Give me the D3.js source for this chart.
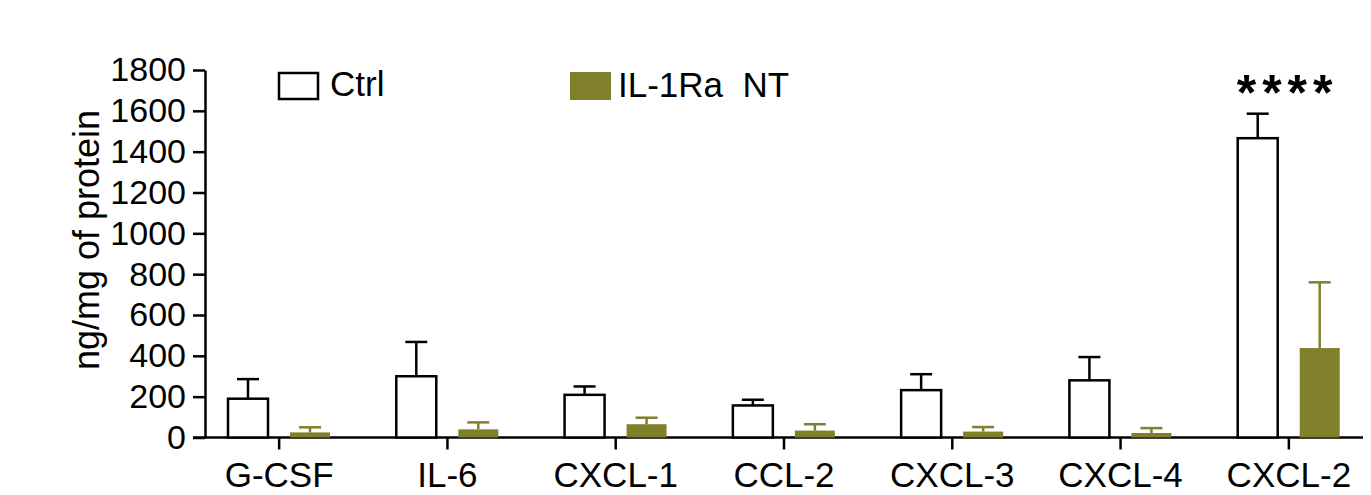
<!DOCTYPE html>
<html>
<head>
<meta charset="utf-8">
<script src="https://cdn.jsdelivr.net/npm/d3@7"></script>
<style>
  body { margin: 0; background: #fff; }
  svg text { font-family: "Liberation Sans", Arial, sans-serif; fill: #000; }
</style>
</head>
<body>
<div id="chart"></div>
<script>
// cytokine levels, Ctrl vs IL-1Ra NT
var categories = ["G-CSF", "IL-6", "CXCL-1", "CCL-2", "CXCL-3", "CXCL-4", "CXCL-2"]
var ctrlMean = [190, 300, 209, 157, 232, 280, 1466]
var ctrlErr  = [96, 168, 41, 28, 78, 114, 120]
var ntMean   = [25, 40, 65, 34, 29, 22, 438]
var ntErr    = [25, 34, 32, 31, 22, 24, 322]
var yTicks   = [0, 200, 400, 600, 800, 1000, 1200, 1400, 1600, 1800]

var width = 1371
var height = 495
var olive = "#81802a"

var svg = d3.select("#chart")
  .append("svg")
  .attr("width", width)
  .attr("height", height)

// scales
var x = d3.scaleBand()
  .domain(categories)
  .range([195, 1373])

var xInner = d3.scaleBand()
  .domain(["Ctrl", "NT"])
  .range([33, 135])
  .paddingInner(0.355)

var y = d3.scaleLinear()
  .domain([0, 1800])
  .range([437.5, 70])

// y axis
var yAxis = svg.append("g")
  .attr("transform", "translate(205,0)")
  .call(d3.axisLeft(y).tickValues(yTicks).tickFormat(d3.format("d"))
    .tickSize(12).tickSizeOuter(0).tickPadding(7))
yAxis.select(".domain").attr("stroke-width", 2.5)
yAxis.selectAll(".tick line").attr("stroke-width", 2.5)
yAxis.selectAll(".tick text")
  .attr("font-size", 34)
  .attr("font-family", "Liberation Sans, Arial, sans-serif")

// x axis
var xAxis = svg.append("g")
  .attr("transform", "translate(0," + y(0) + ")")
  .call(d3.axisBottom(x).tickSize(12).tickSizeOuter(0).tickPadding(13))
xAxis.select(".domain").remove()
xAxis.append("line")
  .attr("x1", 193).attr("x2", 1363)
  .attr("stroke", "#000").attr("stroke-width", 2.5)
xAxis.selectAll(".tick line").attr("stroke-width", 2.5)
xAxis.selectAll(".tick text")
  .attr("font-size", 35)
  .attr("font-family", "Liberation Sans, Arial, sans-serif")

// y axis title
svg.append("text")
  .attr("transform", "translate(99,240) rotate(-90)")
  .attr("text-anchor", "middle")
  .attr("font-size", 36)
  .text("ng/mg of protein")

// rows for drawing
var rows = categories.map(function(c, i) {
  return { cat: c, ctrl: ctrlMean[i], ctrlE: ctrlErr[i], nt: ntMean[i], ntE: ntErr[i] }
})

var groups = svg.selectAll(".grp")
  .data(rows)
  .enter().append("g")
  .attr("class", "grp")
  .attr("transform", function(d) { return "translate(" + x(d.cat) + ",0)" })

var bw = xInner.bandwidth()
var cap = 22

// error bars first so bars sit over the stem base
groups.append("line")
  .attr("x1", xInner("Ctrl") + bw / 2).attr("x2", xInner("Ctrl") + bw / 2)
  .attr("y1", function(d) { return y(d.ctrl) })
  .attr("y2", function(d) { return y(d.ctrl + d.ctrlE) })
  .attr("stroke", "#000").attr("stroke-width", 2.5)
groups.append("line")
  .attr("x1", xInner("Ctrl") + bw / 2 - cap / 2).attr("x2", xInner("Ctrl") + bw / 2 + cap / 2)
  .attr("y1", function(d) { return y(d.ctrl + d.ctrlE) })
  .attr("y2", function(d) { return y(d.ctrl + d.ctrlE) })
  .attr("stroke", "#000").attr("stroke-width", 2.5)

groups.append("line")
  .attr("x1", xInner("NT") + bw / 2).attr("x2", xInner("NT") + bw / 2)
  .attr("y1", function(d) { return y(d.nt) })
  .attr("y2", function(d) { return y(d.nt + d.ntE) })
  .attr("stroke", olive).attr("stroke-width", 2.5)
groups.append("line")
  .attr("x1", xInner("NT") + bw / 2 - cap / 2).attr("x2", xInner("NT") + bw / 2 + cap / 2)
  .attr("y1", function(d) { return y(d.nt + d.ntE) })
  .attr("y2", function(d) { return y(d.nt + d.ntE) })
  .attr("stroke", olive).attr("stroke-width", 2.5)

// bars
groups.append("rect")
  .attr("x", xInner("Ctrl"))
  .attr("width", bw)
  .attr("y", function(d) { return y(d.ctrl) })
  .attr("height", function(d) { return y(0) - y(d.ctrl) })
  .attr("fill", "#fff")
  .attr("stroke", "#000")
  .attr("stroke-width", 2.5)

groups.append("rect")
  .attr("x", xInner("NT"))
  .attr("width", bw)
  .attr("y", function(d) { return y(d.nt) })
  .attr("height", function(d) { return y(0) - y(d.nt) })
  .attr("fill", olive)

// significance mark over CXCL-2
svg.append("text")
  .attr("x", x("CXCL-2") + xInner("Ctrl") - 1)
  .attr("y", 110)
  .attr("font-size", 50)
  .attr("font-weight", "bold")
  .attr("letter-spacing", 6)
  .text("****")

// legend
svg.append("rect")
  .attr("x", 279).attr("y", 73).attr("width", 39).attr("height", 26)
  .attr("fill", "#fff").attr("stroke", "#000").attr("stroke-width", 2.5)
svg.append("text")
  .attr("x", 330).attr("y", 96)
  .attr("font-size", 35)
  .text("Ctrl")

svg.append("rect")
  .attr("x", 570).attr("y", 72).attr("width", 41).attr("height", 28)
  .attr("fill", olive)
svg.append("text")
  .attr("x", 618).attr("y", 97)
  .attr("font-size", 35)
  .attr("xml:space", "preserve")
  .style("white-space", "pre")
  .text("IL-1Ra  NT")
</script>
</body>
</html>
